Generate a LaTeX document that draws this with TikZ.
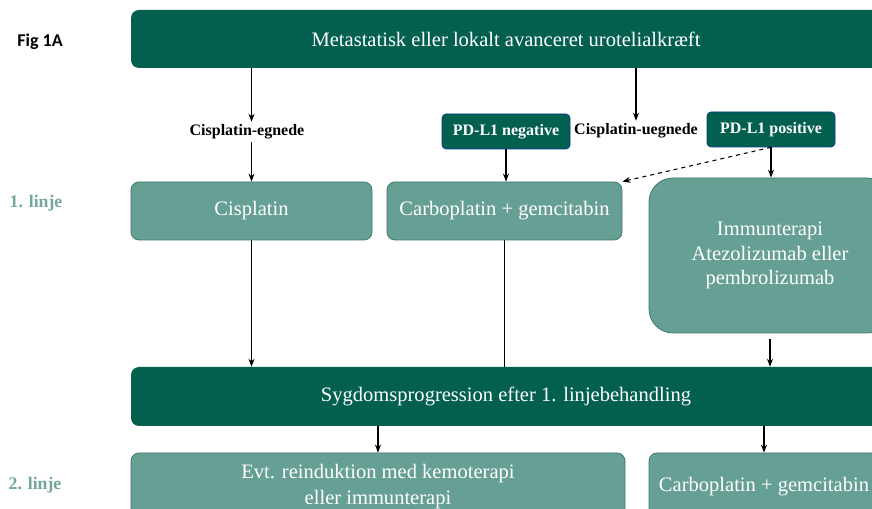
\documentclass[tikz,border=0pt]{standalone}
\usepackage{fontspec}
\setmainfont{Liberation Serif}
\newfontfamily\figfont{Carlito}
\usetikzlibrary{arrows.meta}
\definecolor{darkteal}{HTML}{03604F}
\definecolor{lightteal}{HTML}{669F94}
\definecolor{tealborder}{HTML}{3F7B6F}
\definecolor{linjecolor}{HTML}{74A69B}
\tikzset{
	darkbox/.style={rectangle,rounded corners=6pt,fill=darkteal,text=white,inner sep=0pt,minimum height=43.5pt,font=\fontsize{15.4}{18}\selectfont},
	lightbox/.style={rectangle,rounded corners=6pt,fill=lightteal,draw=tealborder,line width=0.6pt,text=white,inner sep=0pt,minimum height=43.5pt,align=center,font=\fontsize{15.4}{18.4}\selectfont},
	pdbox/.style={rectangle,rounded corners=3pt,fill=darkteal,draw=darkteal!60!blue,line width=0.5pt,text=white,inner sep=0pt,minimum width=96pt,minimum height=26.25pt,font=\fontsize{12}{14}\selectfont\bfseries},
	choice/.style={inner sep=2pt,font=\fontsize{12}{14}\selectfont\bfseries},
	linje/.style={text=linjecolor,font=\fontsize{13.3}{15}\selectfont\bfseries},
	arr/.style={-{Stealth[length=6pt,width=4.5pt]},line width=0.8pt},
	plain/.style={line width=0.8pt}
}
\begin{document}
\begin{tikzpicture}[x=0.75pt,y=-0.75pt]
	\useasboundingbox (0,0) rectangle (872,509);
	\clip (0,0) rectangle (872,509);
	\node[font=\figfont\fontsize{13.5}{15}\selectfont\bfseries] (fig) at (40,42) {Fig 1A};
	\node[linje] (linje1) at (36,203) {1. linje};
	\node[linje] (linje2) at (35,485) {2. linje};
	\node[darkbox,minimum width=562.5pt] (top) at (506,39) {Metastatisk eller lokalt avanceret urotelialkræft};
	\node[choice] (egn) at (247,132) {Cisplatin-egnede};
	\node[choice] (uegn) at (636,131) {Cisplatin-uegnede};
	\node[pdbox] (pdneg) at (506,131.5) {PD-L1 negative};
	\node[pdbox] (pdpos) at (771,129.5) {PD-L1 positive};
	\node[lightbox,minimum width=180.75pt] (cis) at (251.5,211) {Cisplatin};
	\node[lightbox,minimum width=176.25pt] (carbo) at (504.5,211) {Carboplatin + gemcitabin};
	\node[lightbox,rounded corners=18pt,minimum width=181.5pt,minimum height=116.25pt] (immun) at (770,255.5) {Immunterapi\\Atezolizumab eller\\pembrolizumab};
	\node[darkbox,minimum width=562.5pt,minimum height=44.25pt] (prog) at (506,396.5) {Sygdomsprogression efter 1. linjebehandling};
	\node[lightbox,minimum width=370.5pt,minimum height=50.25pt,font=\fontsize{15.4}{19.5}\selectfont] (reind) at (378,486.5) {Evt. reinduktion med kemoterapi\\eller immunterapi};
	\node[lightbox,minimum width=172.5pt,minimum height=50.25pt] (carbo2) at (764,486.5) {Carboplatin + gemcitabin};
	\draw[arr] (top.south -| cis) -- (egn.north -| cis);
	\draw[arr] (egn.south -| cis) -- (cis.north);
	\draw[arr] (top.south -| uegn) -- (uegn.north);
	\draw[arr] (pdneg.south) -- (pdneg.south |- carbo.north);
	\draw[arr] (pdpos.south) -- (pdpos.south |- immun.north);
	\draw[arr,dashed] (pdpos.south) -- (carbo.north east);
	\draw[arr] (cis.south) -- (cis.south |- prog.north);
	\draw[plain] (carbo.south) -- (carbo.south |- prog.north);
	\draw[arr,shorten <=4pt] (immun.south) -- (immun.south |- prog.north);
	\draw[arr] (prog.south -| reind) -- (reind.north);
	\draw[arr] (prog.south -| carbo2) -- (carbo2.north);
\end{tikzpicture}
\end{document}
